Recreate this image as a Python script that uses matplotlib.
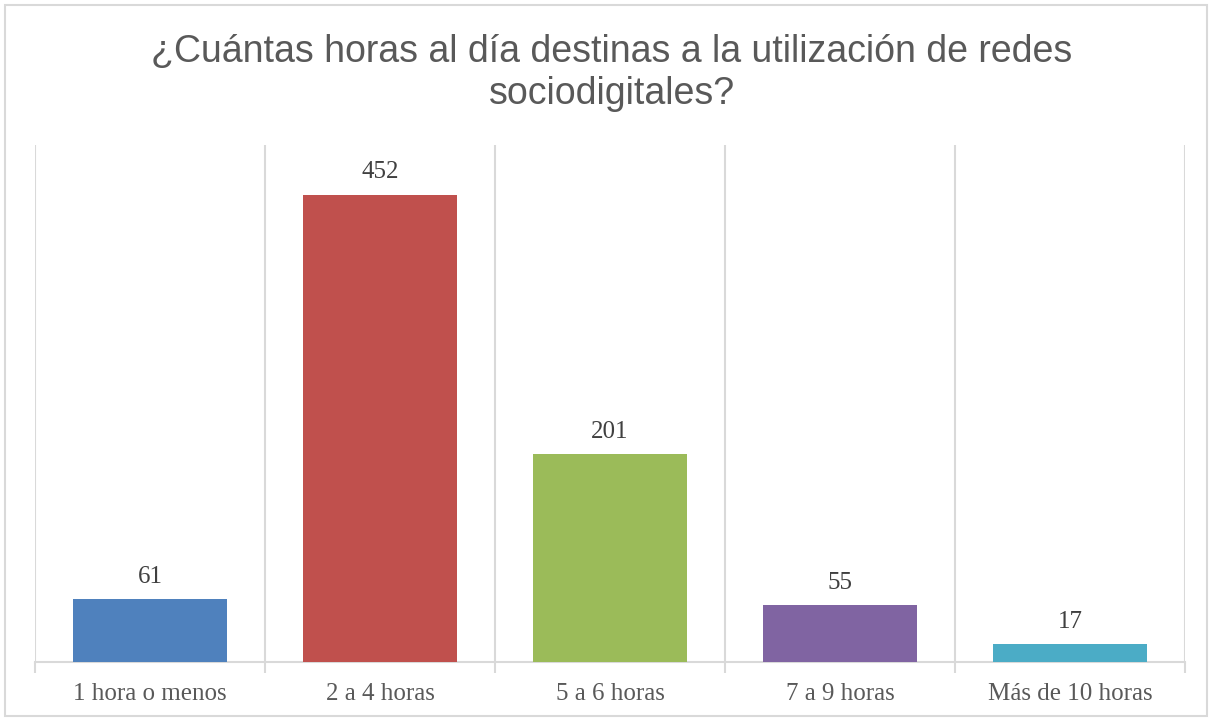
import matplotlib.pyplot as plt
from matplotlib.patches import Rectangle

# data
categories = ['1 hora o menos', '2 a 4 horas', '5 a 6 horas', '7 a 9 horas', 'Más de 10 horas']
values = [61, 452, 201, 55, 17]
colors = ['#4F81BD', '#C0504D', '#9BBB59', '#8064A2', '#4BACC6']
title = '¿Cuántas horas al día destinas a la utilización de redes\nsociodigitales?'

fig = plt.figure(figsize=(12.12, 7.21), dpi=100)
ax = fig.add_axes([35/1212, 1 - 662/721, 1150/1212, 517/721])

x = list(range(len(categories)))
ax.bar(x, values, width=0.67, color=colors, zorder=3)

# value labels
for xi, v in zip(x, values):
    ax.text(xi, v + 11, str(v), ha='center', va='bottom', fontsize=18,
            family='Liberation Serif', color='#404040')

ax.set_xlim(-0.5, len(categories) - 0.5)
ax.set_ylim(0, 500)

# vertical gridlines at category boundaries
for b in [i - 0.5 for i in range(len(categories) + 1)]:
    ax.axvline(b, color='#D9D9D9', lw=1.5, zorder=1)

ax.set_xticks(x)
ax.set_xticklabels(categories, fontsize=18, family='Liberation Serif', color='#595959')
ax.tick_params(axis='x', length=0, pad=15)
ax.set_xticks([i - 0.5 for i in range(len(categories) + 1)], minor=True)
ax.tick_params(axis='x', which='minor', length=8, color='#D9D9D9', width=1.5)
ax.set_yticks([])
for s in ['top', 'left', 'right']:
    ax.spines[s].set_visible(False)
ax.spines['bottom'].set_color('#D9D9D9')
ax.spines['bottom'].set_linewidth(1.5)

fig.text(612/1212, 1 - 73/721, title, ha='center', va='center', fontsize=27,
         family='Liberation Sans', color='#595959', linespacing=1.25)

# figure border
fig.patches.append(Rectangle((5/1212, 5/721), 1202/1212, 711/721, transform=fig.transFigure,
                             fill=False, edgecolor='#D9D9D9', lw=1.5))

plt.savefig('out.png', dpi=100)
